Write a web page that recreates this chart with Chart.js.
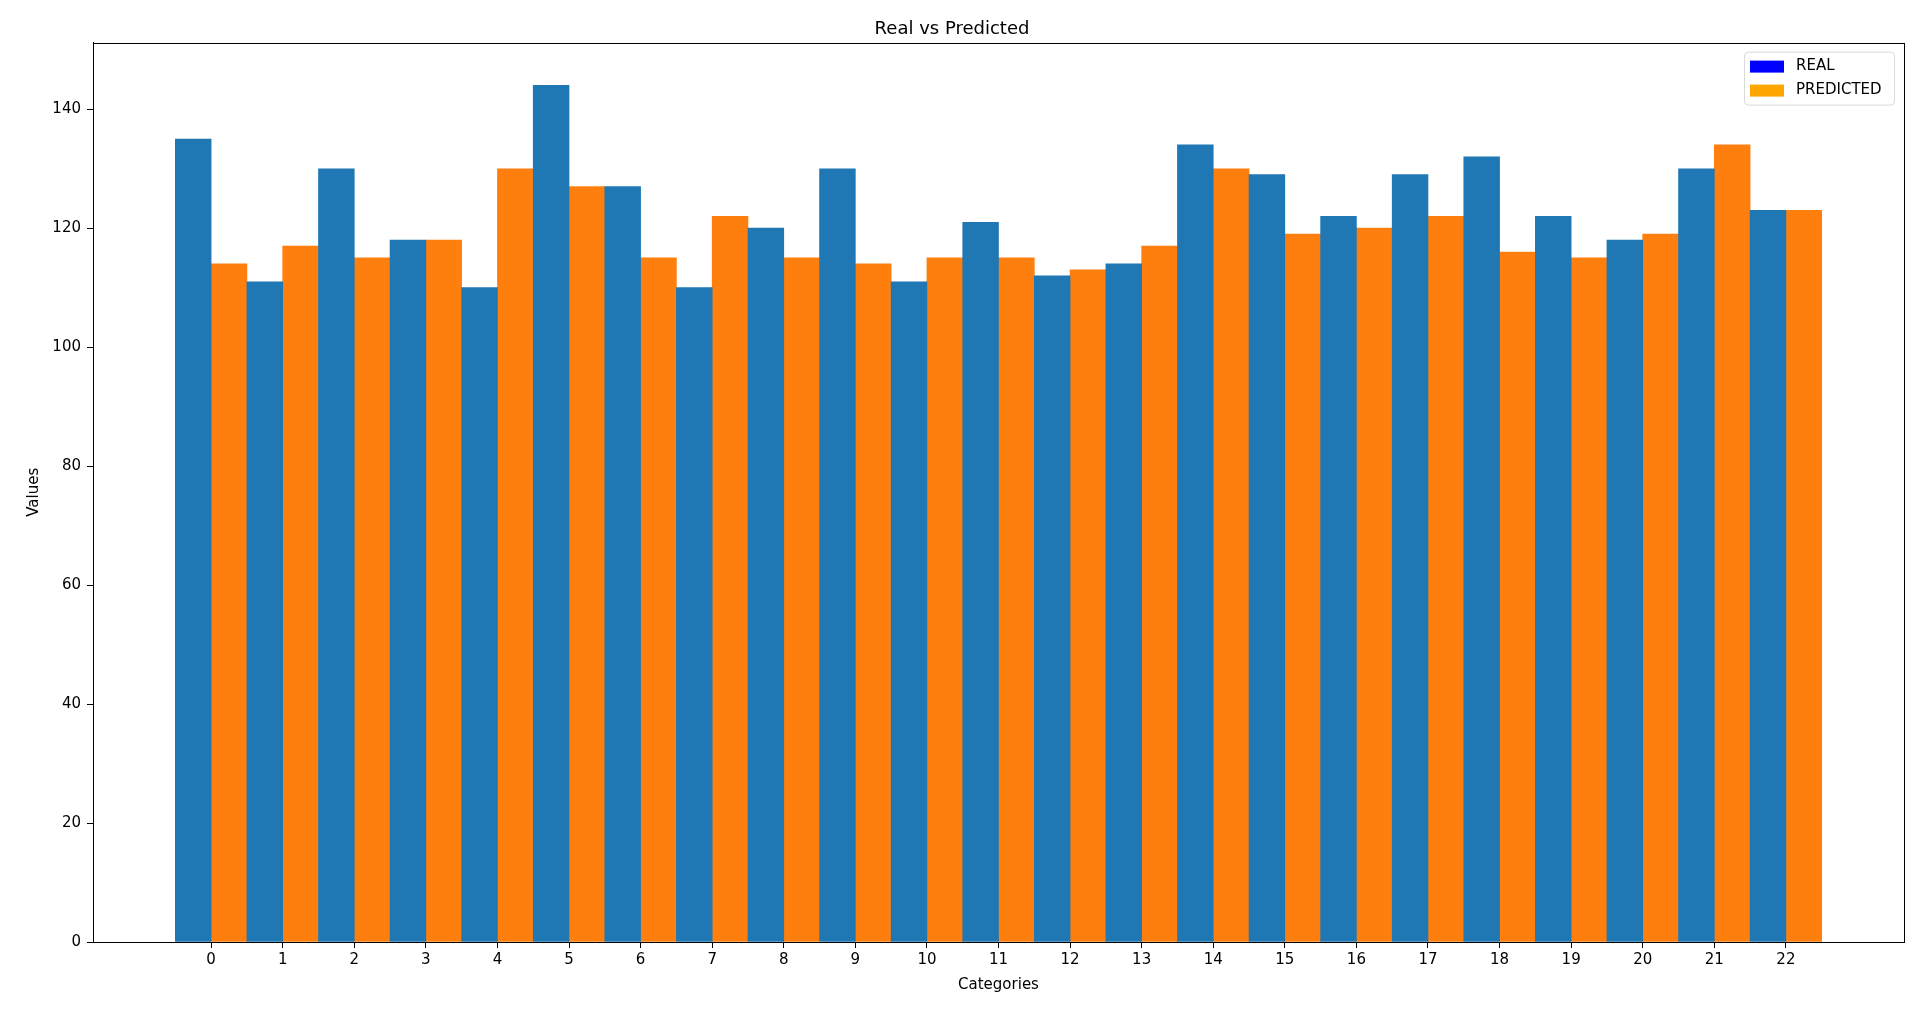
<!DOCTYPE html>
<html>
<head>
<meta charset="utf-8">
<script src="https://cdn.jsdelivr.net/npm/chart.js@4/dist/chart.umd.min.js"></script>
<style>
  html, body { margin: 0; padding: 0; background: #fff; }
  #wrap { width: 1928px; height: 1012px; }
</style>
</head>
<body>
<div id="wrap"><canvas id="myChart"></canvas></div>
<script>
// datos del gráfico
const categories = [0, 1, 2, 3, 4, 5, 6, 7, 8, 9, 10, 11, 12, 13, 14, 15, 16, 17, 18, 19, 20, 21, 22];
const realValues = [135, 111, 130, 118, 110, 144, 127, 110, 120, 130, 111, 121, 112, 114, 134, 129, 122, 129, 132, 122, 118, 130, 123];
const predictedValues = [114, 117, 115, 118, 130, 127, 115, 122, 115, 114, 115, 115, 113, 117, 130, 119, 120, 122, 116, 115, 119, 134, 123];
const yTicks = [0, 20, 40, 60, 80, 100, 120, 140];
const legendLabels = ["REAL", "PREDICTED"];
const legendColors = ["#0000ff", "#ffa500"];

const FONT = "'DejaVu Sans', sans-serif";

//marco del gráfico y leyenda dentro del área
const framePlugin = {
  id: "frame",
  afterDraw(chart) {
    const { ctx, chartArea: a } = chart;
    ctx.save();
    ctx.strokeStyle = "#000";
    ctx.lineWidth = 1;
    ctx.strokeRect(Math.round(a.left) + 0.5, Math.round(a.top) + 0.5,
      Math.round(a.right - a.left), Math.round(a.bottom - a.top));

    // leyenda
    const boxW = 150, boxH = 53;
    const bx = a.right - 10 - boxW, by = a.top + 9;
    ctx.fillStyle = "rgba(255,255,255,0.8)";
    ctx.strokeStyle = "#d9d9d9";
    ctx.beginPath();
    ctx.roundRect(bx + 0.5, by + 0.5, boxW, boxH, 4);
    ctx.fill();
    ctx.stroke();
    ctx.font = "15px " + FONT;
    ctx.textBaseline = "middle";
    legendLabels.forEach((label, i) => {
      const cy = by + 15 + i * 24;
      ctx.fillStyle = legendColors[i];
      ctx.fillRect(bx + 6, cy - 6, 34, 12);
      ctx.fillStyle = "#000";
      ctx.fillText(label, bx + 52, cy);
    });
    ctx.restore();
  }
};

const ctx = document.getElementById("myChart").getContext("2d");
new Chart(ctx, {
  type: "bar",
  data: {
    datasets: [
      {
        label: "REAL",
        backgroundColor: "#1f77b4",
        data: realValues.map((v, i) => ({ x: categories[i], y: v })),
      },
      {
        label: "PREDICTED",
        backgroundColor: "#ff7f0e",
        data: predictedValues.map((v, i) => ({ x: categories[i], y: v })),
      },
    ],
  },
  options: {
    responsive: true,
    maintainAspectRatio: false,
    animation: false,
    events: [],
    categoryPercentage: 1.0,
    barPercentage: 1.0,
    borderWidth: 0,
    layout: { padding: { left: 0, right: 24, top: 0, bottom: 0 } },
    plugins: {
      legend: { display: false },
      tooltip: { enabled: false },
      title: {
        display: true,
        text: "Real vs Predicted",
        color: "#000",
        font: { family: FONT, size: 18, weight: "normal" },
        padding: { top: 19, bottom: 2 },
      },
    },
    scales: {
      x: {
        type: "linear",
        min: -1.65,
        max: 23.65,
        offset: false,
        afterBuildTicks: (scale) => {
          scale.ticks = categories.map((v) => ({ value: v }));
        },
        afterFit: (scale) => { scale.height = 70; },
        grid: {
          offset: false,
          drawOnChartArea: false,
          drawTicks: true,
          tickLength: 6,
          tickColor: "#000",
        },
        border: { display: true, color: "#000" },
        ticks: {
          color: "#000",
          padding: 3,
          maxRotation: 0,
          autoSkip: false,
          font: { family: FONT, size: 15 },
        },
        title: {
          display: true,
          text: "Categories",
          color: "#000",
          font: { family: FONT, size: 15 },
          padding: { top: 0, bottom: 18 },
        },
      },
      y: {
        min: 0,
        max: 151.2,
        afterBuildTicks: (scale) => {
          scale.ticks = yTicks.map((v) => ({ value: v }));
        },
        afterFit: (scale) => { scale.width = 93; },
        grid: {
          drawOnChartArea: false,
          drawTicks: true,
          tickLength: 6,
          tickColor: "#000",
        },
        border: { display: true, color: "#000" },
        ticks: {
          color: "#000",
          padding: 6,
          font: { family: FONT, size: 15 },
        },
        title: {
          display: true,
          text: "Values",
          color: "#000",
          font: { family: FONT, size: 15 },
          padding: { top: 25, bottom: 0 },
        },
      },
    },
  },
  plugins: [framePlugin],
});
</script>
</body>
</html>
